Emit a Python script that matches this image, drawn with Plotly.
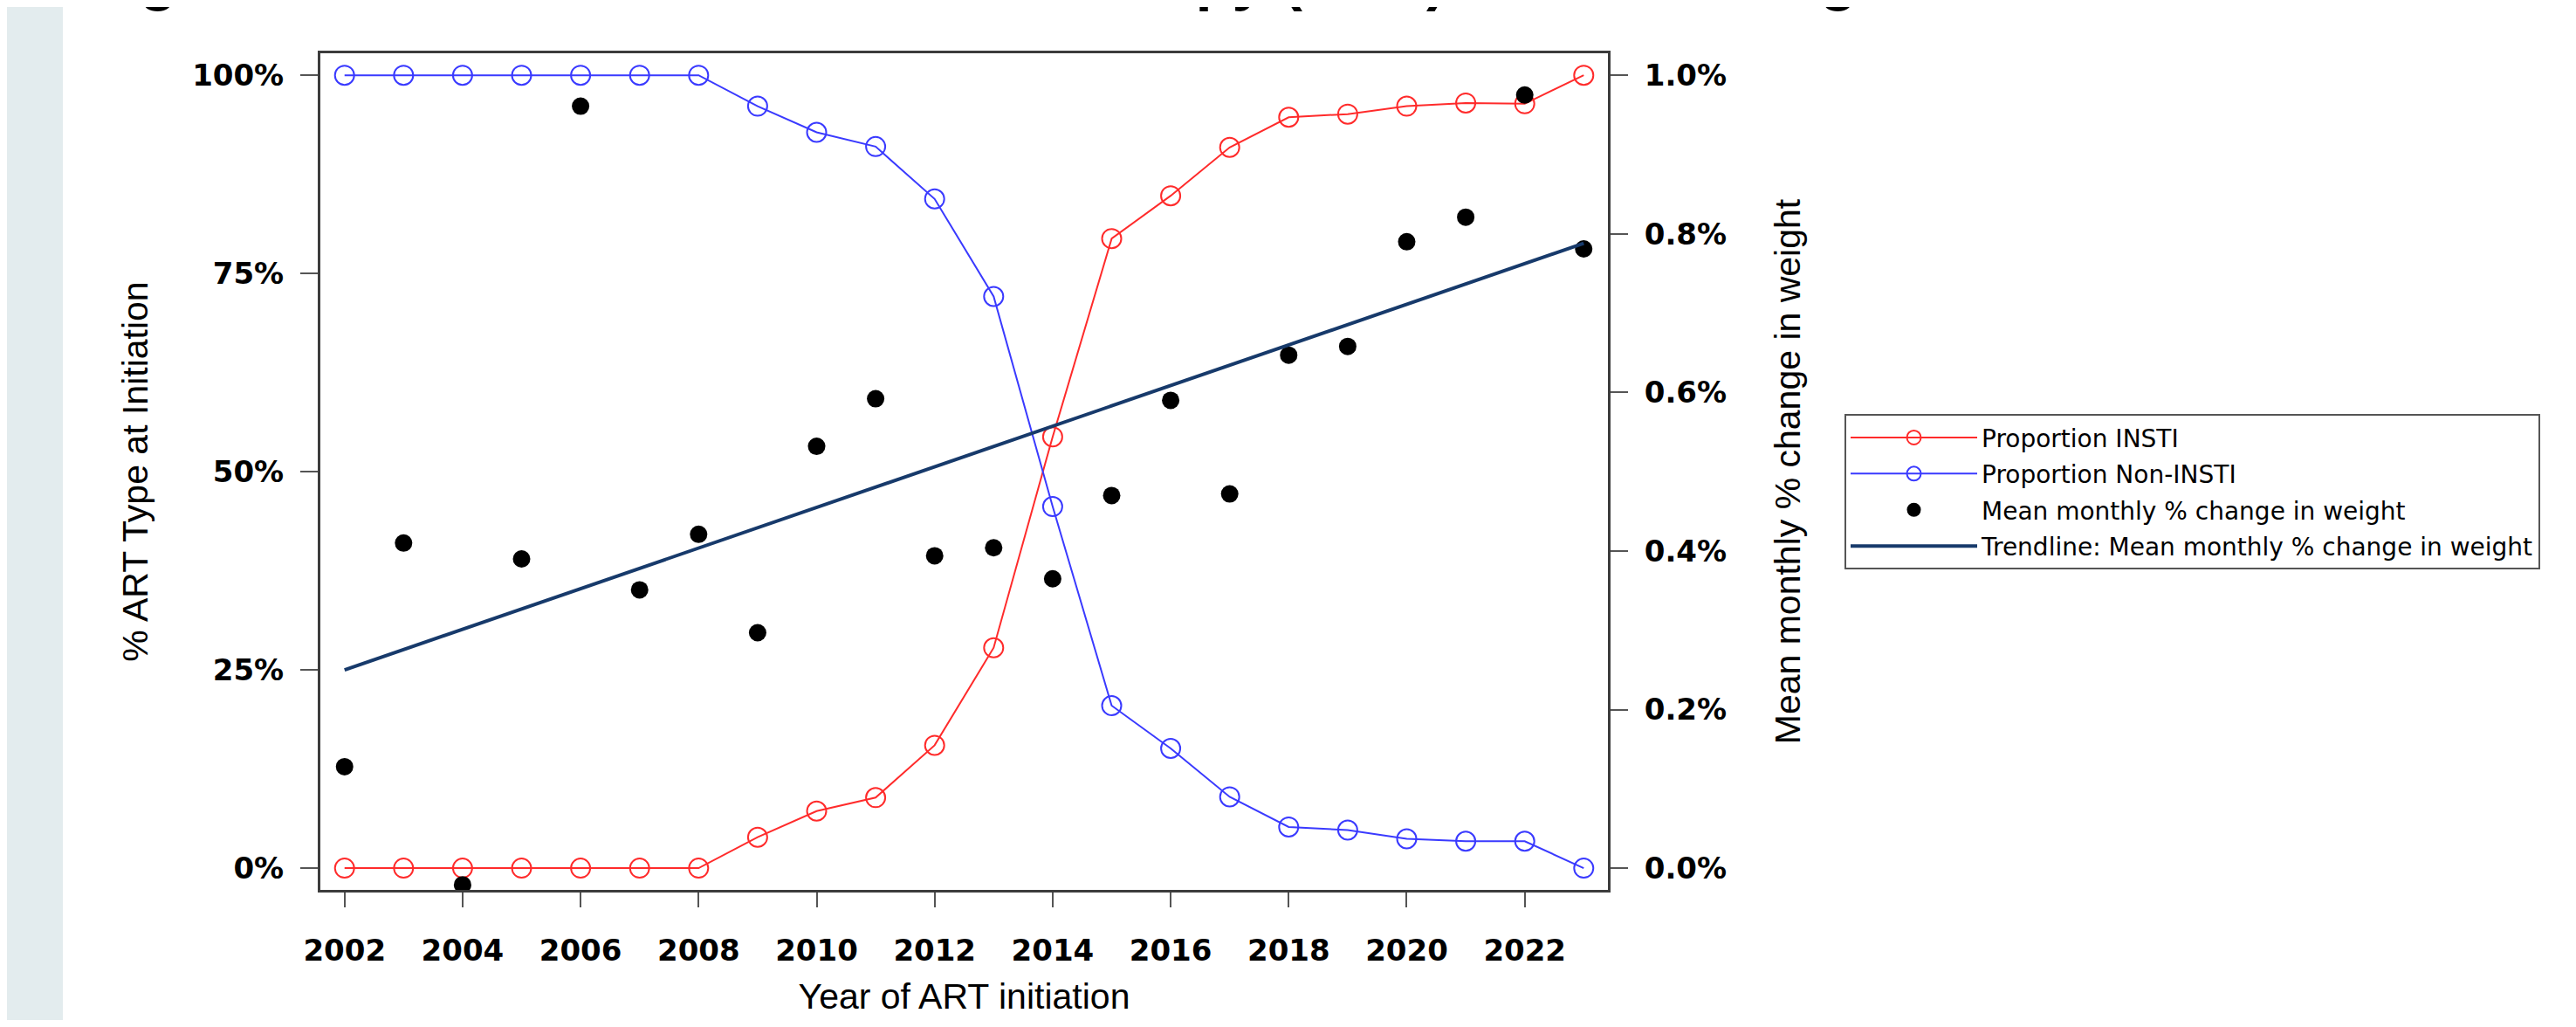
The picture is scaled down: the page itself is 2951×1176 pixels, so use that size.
import plotly.graph_objects as go

years = list(range(2002, 2024))
insti = [0, 0, 0, 0, 0, 0, 0, 3.9, 7.2, 8.9, 15.5, 27.8, 54.4, 79.4, 84.8, 90.9, 94.7, 95.1, 96.1, 96.5, 96.4, 100]
non_insti = [100, 100, 100, 100, 100, 100, 100, 96.1, 92.8, 91.0, 84.4, 72.1, 45.6, 20.5, 15.1, 9.0, 5.2, 4.8, 3.7, 3.4, 3.4, 0]
weight_change = [0.128, 0.410, -0.021, 0.390, 0.961, 0.351, 0.421, 0.297, 0.532, 0.592, 0.394, 0.404,
                 0.365, 0.470, 0.590, 0.472, 0.647, 0.658, 0.790, 0.821, 0.975, 0.781]
trend_years = [2002, 2023]
trend_values = [0.250, 0.788]

x_ticks = list(range(2002, 2023, 2))
left_ticks = [0, 25, 50, 75, 100]
left_labels = ["0%", "25%", "50%", "75%", "100%"]
right_ticks = [0, 0.2, 0.4, 0.6, 0.8, 1.0]
right_labels = ["0.0%", "0.2%", "0.4%", "0.6%", "0.8%", "1.0%"]

# page has an 8px body margin; figure coordinates = page coordinates - 8
OFF = 8
W, H = 2951 - 2 * OFF, 1176 - 2 * OFF
L, R, T, B = 367 - OFF, 1842 - OFF, 61 - OFF, 1023 - OFF
pw, ph = R - L, B - T

RED = "#ff2b2b"
BLUE = "#3a3aff"

fig = go.Figure()
fig.add_trace(go.Scatter(
    x=years, y=insti, name="Proportion INSTI", mode="lines+markers", legendgroup="a",
    line=dict(color=RED, width=2),
    marker=dict(symbol="circle-open", size=22, color=RED, line=dict(width=2)),
))
fig.add_trace(go.Scatter(
    x=years, y=non_insti, name="Proportion Non-INSTI", mode="lines+markers", legendgroup="b",
    line=dict(color=BLUE, width=2),
    marker=dict(symbol="circle-open", size=22, color=BLUE, line=dict(width=2)),
))
fig.add_trace(go.Scatter(
    x=years, y=weight_change, name="Mean monthly % change in weight",
    mode="markers", yaxis="y2", legendgroup="c",
    marker=dict(symbol="circle", size=20, color="black"),
))
fig.add_trace(go.Scatter(
    x=trend_years, y=trend_values,
    name="Trendline: Mean monthly % change in weight",
    mode="lines", yaxis="y2", legendgroup="d",
    line=dict(color="#173a6b", width=4),
))

tick_font = dict(family="DejaVu Sans", size=34, color="black", weight="bold")
title_font = dict(family="Liberation Sans, Arial", size=41, color="black")
FRAME = "#3c3c3c"

fig.update_layout(
    width=W, height=H,
    margin=dict(l=L, r=W - R, t=T, b=H - B),
    paper_bgcolor="white", plot_bgcolor="white",
    showlegend=True,
    legend=dict(
        x=(2113 - OFF - L) / pw, y=(B - (476 - OFF)) / ph, xanchor="left", yanchor="top",
        bordercolor="#555555", borderwidth=2, bgcolor="white",
        font=dict(family="DejaVu Sans", size=28, color="black"),
        itemwidth=145, tracegroupgap=2,
    ),
    xaxis=dict(
        range=[2001.59, 2023.41], tickvals=x_ticks, ticks="outside", ticklen=17,
        tickwidth=2, tickcolor="#555555", showgrid=False, zeroline=False,
        showline=True, linecolor=FRAME, linewidth=3, mirror=True,
        tickfont=tick_font, ticklabelstandoff=20,
        title=dict(text="Year of ART initiation", font=title_font, standoff=20),
    ),
    yaxis=dict(
        range=[-2.74, 102.77], tickvals=left_ticks, ticktext=left_labels, ticks="outside",
        ticklen=20, tickwidth=2, tickcolor="#555555", showgrid=False, zeroline=False,
        showline=True, linecolor=FRAME, linewidth=3,
        tickfont=tick_font, ticklabelstandoff=12,
        title=dict(text="% ART Type at Initiation", font=title_font, standoff=38),
    ),
    yaxis2=dict(
        range=[-0.0274, 1.0277], tickvals=right_ticks, ticktext=right_labels,
        overlaying="y", side="right", ticks="outside", ticklen=20, tickwidth=2,
        tickcolor="#555555", showgrid=False, zeroline=False,
        showline=True, linecolor=FRAME, linewidth=3,
        tickfont=tick_font, ticklabelstandoff=12,
        title=dict(text="Mean monthly % change in weight", font=title_font, standoff=57),
    ),
    shapes=[dict(
        type="rect", xref="paper", yref="paper",
        x0=-L / pw - 0.01, x1=(72 - OFF - L) / pw, y0=-(H - B) / ph - 0.01, y1=1 + T / ph + 0.01,
        fillcolor="#e3ecee", line=dict(width=0), layer="below",
    )],
    annotations=[dict(
        text="Figure 1. Trends in Antiretroviral Therapy (ART) Use and Weight",
        xref="paper", yref="paper", x=(97 - OFF - L) / pw, y=1 + (T - 8) / ph,
        xanchor="left", yanchor="bottom", showarrow=False,
        font=dict(family="Liberation Sans, Arial", size=69, color="black", weight="bold"),
    )],
)

fig.write_html("out.html")
